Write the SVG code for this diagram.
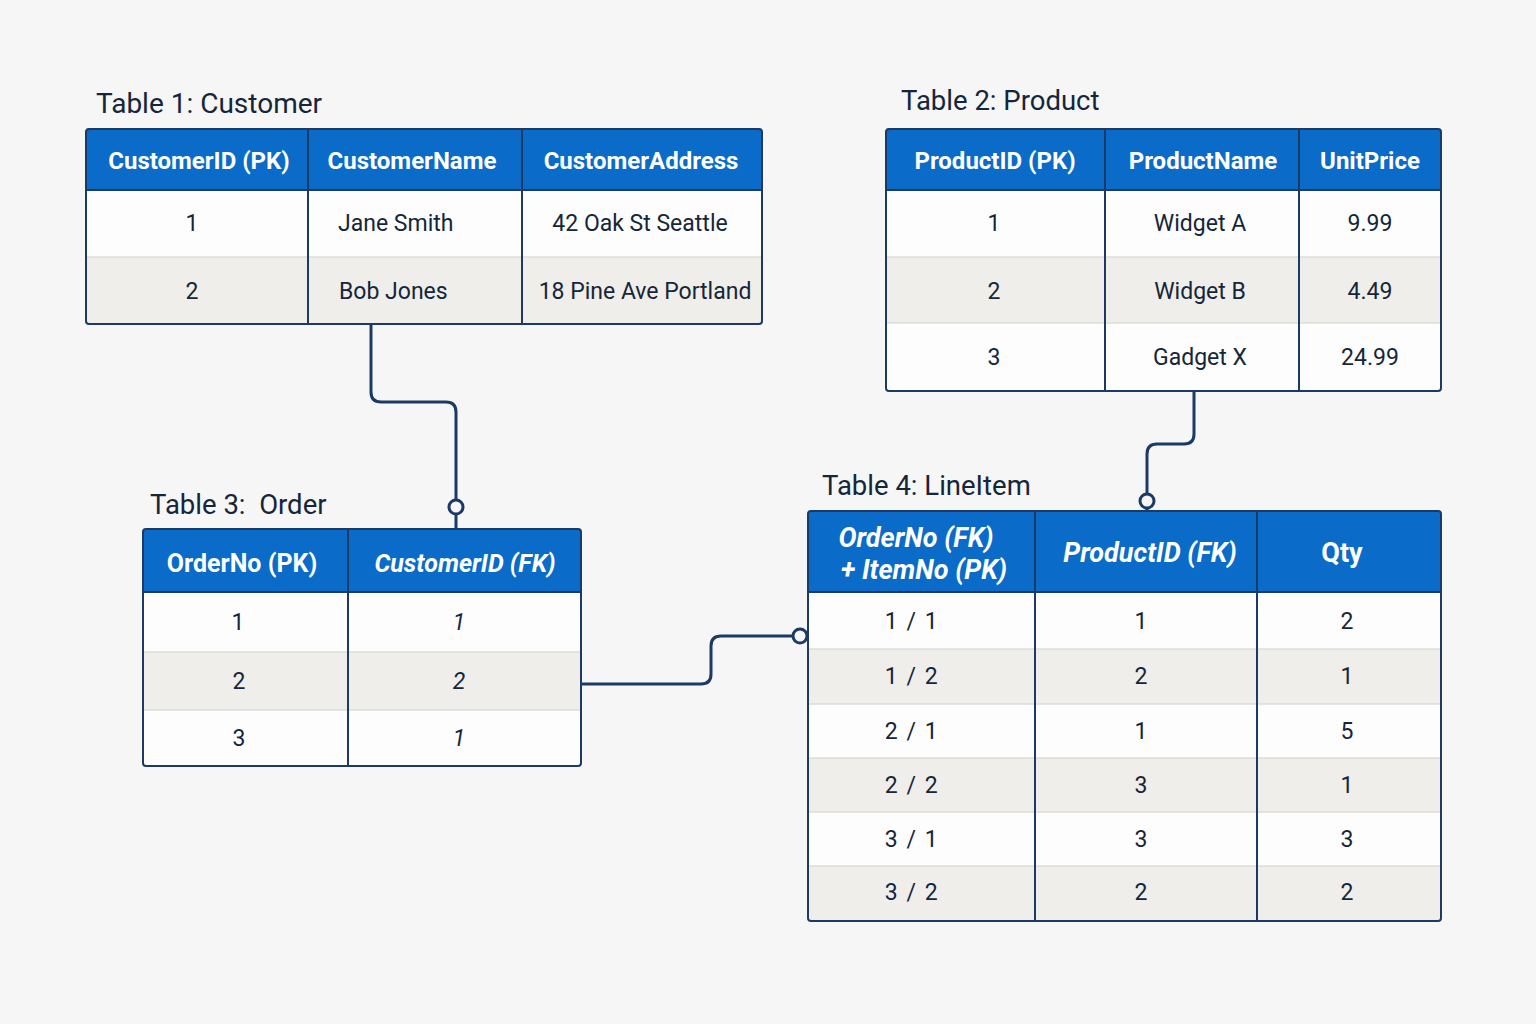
<svg xmlns="http://www.w3.org/2000/svg" width="1536" height="1024" viewBox="0 0 1536 1024">
<style>
.title{font-family:Roboto,"Liberation Sans",sans-serif;font-size:27.5px;fill:#15263a}
.hd{font-family:Roboto,"Liberation Sans",sans-serif;font-size:24px;font-weight:bold;fill:#ffffff;text-anchor:middle;dominant-baseline:central}
.hd2{font-size:25px}
.hd4{font-size:27px}
.it{font-style:italic}
.v{font-family:Roboto,"Liberation Sans",sans-serif;font-size:23px;fill:#15263a;text-anchor:middle;dominant-baseline:central}
.vl{text-anchor:start}
.sl{letter-spacing:1.5px}
.hdr{fill:#0a6bc8}
.alt{fill:#efeeea}
.wht{fill:#fdfdfd}
.sep{stroke:#dcdcd7;stroke-width:1.5}
.col{stroke:#1b3a66;stroke-width:2}
.frame{fill:none;stroke:#1b3a66;stroke-width:2}
.con{fill:none;stroke:#1b3a66;stroke-width:3}
.ring{fill:#f7f7f7;stroke:#1b3a66;stroke-width:3}
</style>
<rect width="1536" height="1024" fill="#f6f6f6"/>

<g id="connectors">
<path class="con" d="M371,324 V392 Q371,402 381,402 H446 Q456,402 456,412 V529"/>
<circle class="ring" cx="456" cy="507" r="7"/>
<path class="con" d="M1194,391 V434 Q1194,444 1184,444 H1157 Q1147,444 1147,454 V511"/>
<circle class="ring" cx="1147" cy="501" r="7"/>
<path class="con" d="M581,684 H701 Q711,684 711,674 V646 Q711,636 721,636 H808"/>
<circle class="ring" cx="800" cy="636" r="7"/>
</g>

<g id="customer">
<text class="title" x="96" y="113" style="font-size:28px">Table 1: Customer</text>
<rect class="hdr" x="86" y="129" width="676" height="61" rx="3"/>
<rect class="wht" x="86" y="190" width="676" height="67"/>
<rect class="alt" x="86" y="257" width="676" height="67"/>
<line class="sep" x1="86" y1="257" x2="762" y2="257"/>
<line class="col" x1="86" y1="190" x2="762" y2="190"/>
<line class="col" x1="308" y1="129" x2="308" y2="324"/>
<line class="col" x1="522" y1="129" x2="522" y2="324"/>
<rect class="frame" x="86" y="129" width="676" height="195" rx="3"/>
<text class="hd" x="199" y="161">CustomerID (PK)</text>
<text class="hd" x="412" y="161">CustomerName</text>
<text class="hd" x="641" y="161">CustomerAddress</text>
<text class="v" x="192" y="223">1</text>
<text class="v vl" x="338" y="223">Jane Smith</text>
<text class="v" x="640" y="223">42 Oak St Seattle</text>
<text class="v" x="192" y="291">2</text>
<text class="v vl" x="339" y="291">Bob Jones</text>
<text class="v" x="645" y="291">18 Pine Ave Portland</text>
</g>

<g id="product">
<text class="title" x="901" y="110">Table 2: Product</text>
<rect class="hdr" x="886" y="129" width="555" height="61" rx="3"/>
<rect class="wht" x="886" y="190" width="555" height="67"/>
<rect class="alt" x="886" y="257" width="555" height="66"/>
<rect class="wht" x="886" y="323" width="555" height="68"/>
<line class="sep" x1="886" y1="257" x2="1441" y2="257"/>
<line class="sep" x1="886" y1="323" x2="1441" y2="323"/>
<line class="col" x1="886" y1="190" x2="1441" y2="190"/>
<line class="col" x1="1105" y1="129" x2="1105" y2="391"/>
<line class="col" x1="1299" y1="129" x2="1299" y2="391"/>
<rect class="frame" x="886" y="129" width="555" height="262" rx="3"/>
<text class="hd" x="995" y="161">ProductID (PK)</text>
<text class="hd" x="1203" y="161">ProductName</text>
<text class="hd" x="1370" y="161">UnitPrice</text>
<text class="v" x="994" y="223">1</text>
<text class="v" x="1200" y="223">Widget A</text>
<text class="v" x="1370" y="223">9.99</text>
<text class="v" x="994" y="291">2</text>
<text class="v" x="1200" y="291">Widget B</text>
<text class="v" x="1370" y="291">4.49</text>
<text class="v" x="994" y="357">3</text>
<text class="v" x="1200" y="357">Gadget X</text>
<text class="v" x="1370" y="357">24.99</text>
</g>

<g id="order">
<text class="title" x="150" y="514" xml:space="preserve">Table 3:  Order</text>
<rect class="hdr" x="143" y="529" width="438" height="63" rx="3"/>
<rect class="wht" x="143" y="592" width="438" height="60"/>
<rect class="alt" x="143" y="652" width="438" height="58"/>
<rect class="wht" x="143" y="710" width="438" height="56"/>
<line class="sep" x1="143" y1="652" x2="581" y2="652"/>
<line class="sep" x1="143" y1="710" x2="581" y2="710"/>
<line class="col" x1="143" y1="592" x2="581" y2="592"/>
<line class="col" x1="348" y1="529" x2="348" y2="766"/>
<rect class="frame" x="143" y="529" width="438" height="237" rx="3"/>
<text class="hd hd2" x="242" y="563">OrderNo (PK)</text>
<text class="hd hd2 it" x="465" y="563">CustomerID (FK)</text>
<text class="v" x="238" y="622">1</text>
<text class="v it" x="459" y="622">1</text>
<text class="v" x="239" y="681">2</text>
<text class="v it" x="459" y="681">2</text>
<text class="v" x="239" y="738">3</text>
<text class="v it" x="459" y="738">1</text>
</g>

<g id="lineitem">
<text class="title" x="822" y="495">Table 4: LineItem</text>
<rect class="hdr" x="808" y="511" width="633" height="81" rx="3"/>
<rect class="wht" x="808" y="592" width="633" height="57"/>
<rect class="alt" x="808" y="649" width="633" height="55"/>
<rect class="wht" x="808" y="704" width="633" height="54"/>
<rect class="alt" x="808" y="758" width="633" height="54"/>
<rect class="wht" x="808" y="812" width="633" height="54"/>
<rect class="alt" x="808" y="866" width="633" height="55"/>
<line class="sep" x1="808" y1="649" x2="1441" y2="649"/>
<line class="sep" x1="808" y1="704" x2="1441" y2="704"/>
<line class="sep" x1="808" y1="758" x2="1441" y2="758"/>
<line class="sep" x1="808" y1="812" x2="1441" y2="812"/>
<line class="sep" x1="808" y1="866" x2="1441" y2="866"/>
<line class="col" x1="808" y1="592" x2="1441" y2="592"/>
<line class="col" x1="1035" y1="511" x2="1035" y2="921"/>
<line class="col" x1="1257" y1="511" x2="1257" y2="921"/>
<rect class="frame" x="808" y="511" width="633" height="410" rx="3"/>
<text class="hd hd4 it" x="916" y="538">OrderNo (FK)</text>
<text class="hd hd4 it" x="924" y="570">+ ItemNo (PK)</text>
<text class="hd hd4 it" x="1150" y="553">ProductID (FK)</text>
<text class="hd hd4" x="1342" y="553">Qty</text>
<text class="v sl" x="912" y="621">1 / 1</text>
<text class="v" x="1141" y="621">1</text>
<text class="v" x="1347" y="621">2</text>
<text class="v sl" x="912" y="676">1 / 2</text>
<text class="v" x="1141" y="676">2</text>
<text class="v" x="1347" y="676">1</text>
<text class="v sl" x="912" y="731">2 / 1</text>
<text class="v" x="1141" y="731">1</text>
<text class="v" x="1347" y="731">5</text>
<text class="v sl" x="912" y="785">2 / 2</text>
<text class="v" x="1141" y="785">3</text>
<text class="v" x="1347" y="785">1</text>
<text class="v sl" x="912" y="839">3 / 1</text>
<text class="v" x="1141" y="839">3</text>
<text class="v" x="1347" y="839">3</text>
<text class="v sl" x="912" y="892">3 / 2</text>
<text class="v" x="1141" y="892">2</text>
<text class="v" x="1347" y="892">2</text>
</g>
</svg>
